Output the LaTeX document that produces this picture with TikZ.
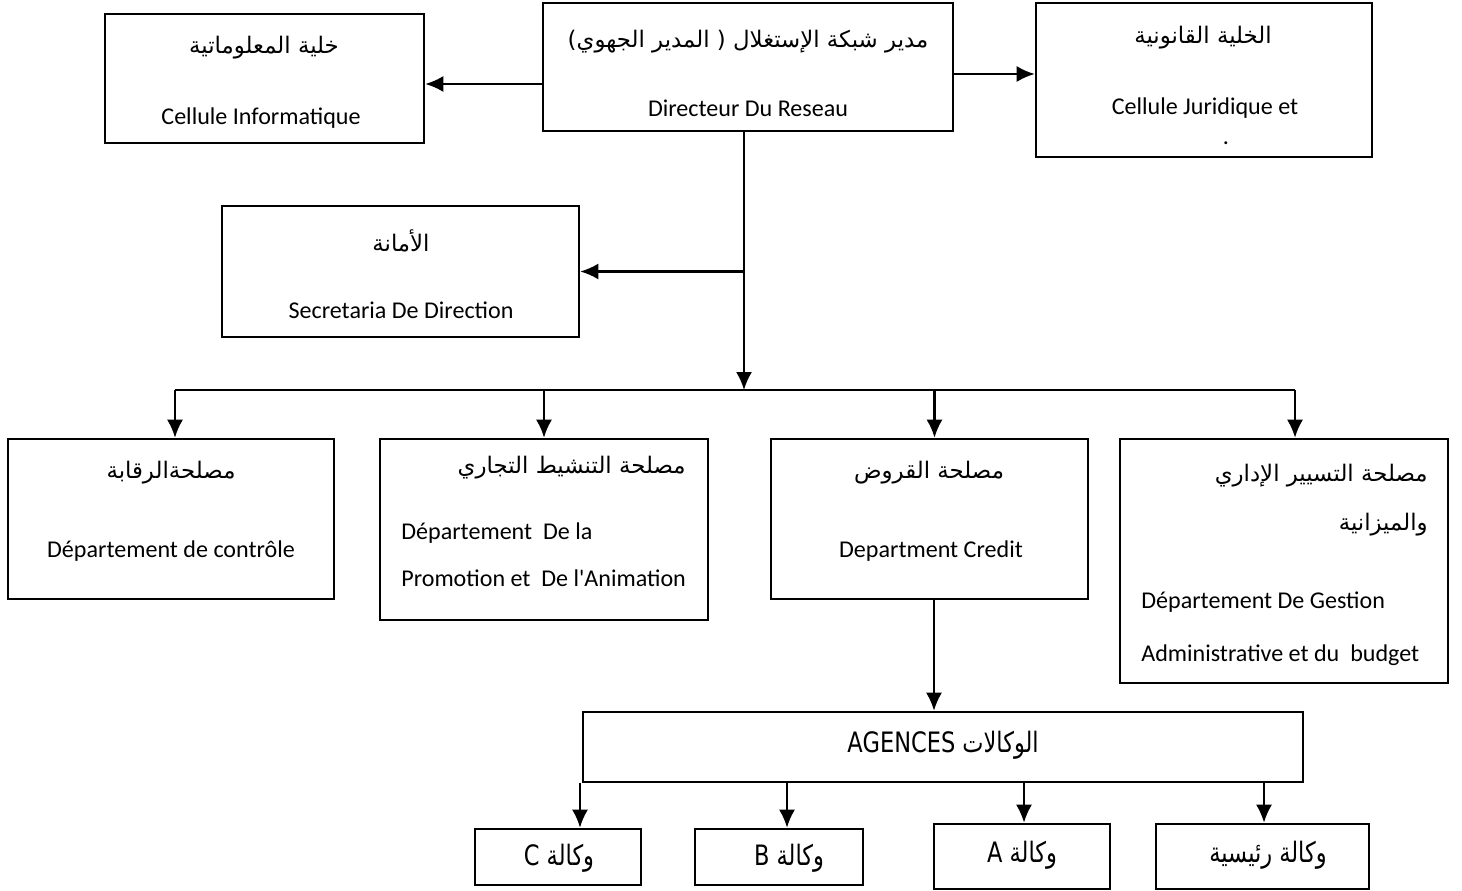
\documentclass[tikz,border=0pt]{standalone}
\usepackage{fontspec}
\setmainfont{Carlito}
\newfontfamily\arabicfont[Script=Arabic]{DejaVu Sans}
\newfontfamily\narrowfont[Script=Arabic,FakeStretch=0.8]{DejaVu Sans}
\TeXXeTstate=1
\usetikzlibrary{arrows.meta}

\begin{document}
\begin{tikzpicture}[x=0.02cm,y=-0.02cm,
	every node/.style={inner sep=0pt},
	box/.style={draw=black,line width=1.5pt,rectangle},
	arr/.style={line width=1.2pt,-{Latex[length=0.36cm,width=0.32cm]}},
	ar/.style={font=\arabicfont\fontsize{13}{15}\selectfont},
	fr/.style={font=\fontsize{13.7}{16}\selectfont},
	ag/.style={font=\narrowfont\fontsize{16}{18}\selectfont}]

	\useasboundingbox (0,0) rectangle (1462,891);

	%top boxes
	\node [box,minimum width=8.2cm,minimum height=2.56cm] (n1) at (748,67) {};
	\node [box,minimum width=6.38cm,minimum height=2.58cm] (n2) at (264.5,78.5) {};
	\node [box,minimum width=6.72cm,minimum height=3.08cm] (n3) at (1204,80) {};
	\node [box,minimum width=7.14cm,minimum height=2.62cm] (n4) at (400.5,271.5) {};

	%departments
	\node [box,minimum width=6.52cm,minimum height=3.2cm] (n5) at (171,519) {};
	\node [box,minimum width=6.56cm,minimum height=3.62cm] (n6) at (544,529.5) {};
	\node [box,minimum width=6.34cm,minimum height=3.2cm] (n7) at (929.5,519) {};
	\node [box,minimum width=6.56cm,minimum height=4.88cm] (n8) at (1284,561) {};

	%agencies
	\node [box,minimum width=14.4cm,minimum height=1.4cm] (n9) at (943,747) {};
	\node [box,minimum width=3.32cm,minimum height=1.12cm] (n10) at (558,857) {};
	\node [box,minimum width=3.36cm,minimum height=1.12cm] (n11) at (779,857) {};
	\node [box,minimum width=3.52cm,minimum height=1.3cm] (n12) at (1022,856.5) {};
	\node [box,minimum width=4.26cm,minimum height=1.3cm] (n13) at (1262.5,856.5) {};

	%texts
	\node [ar] (t1) at (748,42) {\beginR مدير شبكة الإستغلال ( المدير الجهوي)\endR};
	\node [fr] (t2) at (748,108) {Directeur Du Reseau};
	\node [ar] (t3) at (264,48) {\beginR خلية المعلوماتية\endR};
	\node [fr] (t4) at (261,118) {Cellule Informatique};
	\node [ar] (t5) at (1203,38) {\beginR الخلية القانونية\endR};
	\node [fr] (t6) at (1205,108) {Cellule Juridique et};
	\node [fr] (t7) at (1226,143) {.};
	\node [ar] (t8) at (401,241) {\beginR الأمانة\endR};
	\node [fr] (t9) at (401,310) {Secretaria De Direction};
	\node [ar] (t10) at (171,473) {\beginR مصلحةالرقابة\endR};
	\node [fr] (t11) at (171,551) {Département de contrôle};
	\node [ar,anchor=east] (t12) at (686,468) {\beginR مصلحة التنشيط التجاري\endR};
	\node [fr,anchor=west] (t13) at (401,533) {Département\ \ De la};
	\node [fr,anchor=west] (t14) at (401,578) {Promotion et\ \ De l{\addfontfeature{Ligatures=TeXOff}'}Animation};
	\node [ar] (t15) at (929,473) {\beginR مصلحة القروض\endR};
	\node [fr] (t16) at (931,551) {Department Credit};
	\node [ar,anchor=east] (t17) at (1428,476) {\beginR مصلحة التسيير الإداري\endR};
	\node [ar,anchor=east] (t18) at (1428,525) {\beginR والميزانية\endR};
	\node [fr,anchor=west] (t19) at (1141,602) {Département De Gestion};
	\node [fr,anchor=west] (t20) at (1141,655) {Administrative et du\ \ budget};
	\node [ag] (t21) at (943,745) {\beginR الوكالات \beginL AGENCES\endL\endR};
	\node [ag] (t22) at (559,858) {\beginR وكالة C\endR};
	\node [ag] (t23) at (789,858) {\beginR وكالة B\endR};
	\node [ag] (t24) at (1022,855) {\beginR وكالة A\endR};
	\node [ag] (t25) at (1268,855) {\beginR وكالة رئيسية\endR};

	%edges
	\coordinate (j1) at (744,390);
	\draw[arr] ([yshift=-0.11cm]n1.west |- n2.east) -- ([yshift=-0.11cm]n2.east);
	\draw[arr] ([yshift=0.12cm]n1.east |- n3.west) -- ([yshift=0.12cm]n3.west);
	\draw[arr] (n1.south -| j1) -- (j1);
	\draw[arr] (j1 |- n4.east) -- (n4.east);
	\draw[line width=1.2pt] ([xshift=0.08cm]n5.north |- j1) -- ([xshift=0.22cm]n8.north |- j1);
	\foreach \n/\s in {n5/0.08,n6/0,n7/0.1,n8/0.22}
		\draw[arr] ([xshift=\s cm]\n.north |- j1) -- ([xshift=\s cm]\n.north);
	\draw[arr] ([xshift=0.09cm]n7.south) -- ([xshift=0.09cm]n7.south |- n9.north);
	\foreach \n/\s in {n10/0.44,n11/0.16,n12/0.04,n13/0.03}
		\draw[arr] ([xshift=\s cm]\n.north |- n9.south) -- ([xshift=\s cm]\n.north);
\end{tikzpicture}
\end{document}
